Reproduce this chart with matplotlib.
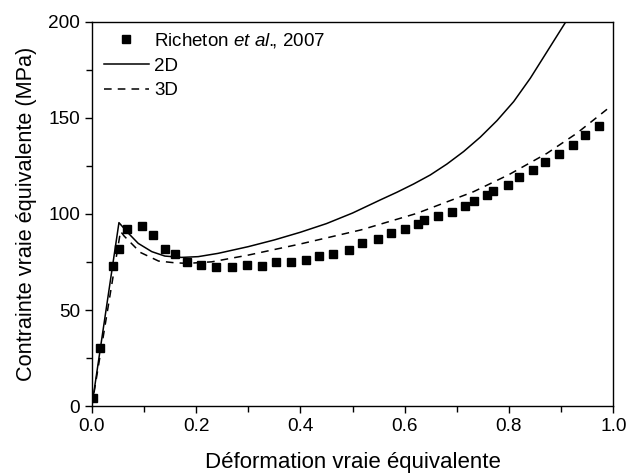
import matplotlib
matplotlib.use("Agg")
import matplotlib.pyplot as plt
from matplotlib.ticker import MultipleLocator

plt.rcParams['font.family'] = ['Liberation Sans', 'DejaVu Sans']
plt.rcParams['mathtext.fontset'] = 'custom'
plt.rcParams['mathtext.rm'] = 'Liberation Sans'
plt.rcParams['mathtext.it'] = 'Liberation Sans:italic'

# Richeton et al., 2007 (points expérimentaux)
exp_strain = [0.002, 0.015, 0.040, 0.052, 0.068, 0.096, 0.118, 0.140, 0.159, 0.183,
              0.210, 0.239, 0.268, 0.297, 0.326, 0.353, 0.381, 0.411, 0.436, 0.463,
              0.493, 0.518, 0.548, 0.574, 0.601, 0.626, 0.637, 0.664, 0.690, 0.716,
              0.733, 0.757, 0.770, 0.798, 0.820, 0.847, 0.870, 0.896, 0.922, 0.946,
              0.972]
exp_stress = [4.3, 30, 73, 82, 92, 94, 89, 82, 79, 75,
              73.4, 72.4, 72.2, 73.3, 73, 75, 75, 76, 78, 79,
              81, 85, 87, 90, 92, 95, 97, 99, 101, 104,
              107, 110, 112, 115, 119, 123, 127, 131, 136, 141,
              146]

# simulation 2D
strain_2d = [0.0, 0.052, 0.070, 0.089, 0.115, 0.140, 0.172, 0.204, 0.242, 0.30,
             0.35, 0.40, 0.45, 0.50, 0.553, 0.585, 0.617, 0.649, 0.681, 0.713,
             0.745, 0.777, 0.809, 0.841, 0.873, 0.908, 0.93]
stress_2d = [0, 95.5, 90, 84.7, 80.4, 78.1, 77.4, 77.8, 79.5, 83,
             86.5, 90.5, 95, 100.5, 107.3, 111.3, 115.6, 120.3, 126, 132.5,
             140, 148.6, 158.5, 170.7, 184.5, 199.6, 210]

# simulation 3D
strain_3d = [0.0, 0.055, 0.062, 0.093, 0.128, 0.159, 0.184, 0.23, 0.30, 0.40,
             0.516, 0.623, 0.732, 0.80, 0.873, 0.93, 0.988]
stress_3d = [0, 91, 88.5, 80, 75.5, 74.6, 74.3, 75.1, 78.6, 84.4,
             91.7, 100.3, 111.6, 120.5, 131.6, 142, 154.5]

fig = plt.figure(figsize=(6.29, 4.75), dpi=100)
ax = fig.add_axes([0.146, 0.145, 0.829, 0.809])

ax.plot(exp_strain, exp_stress, 's', color='black', markersize=6, linestyle='none',
        label='Richeton $\\mathit{et\\ al.}\\!\\!\\mathrm{,}$ 2007')
ax.plot(strain_2d, stress_2d, '-', color='black', linewidth=1.1, label='2D')
ax.plot(strain_3d, stress_3d, color='black', linewidth=1.1, linestyle=(0, (5, 4)), label='3D')

ax.set_xlim(0, 1.0)
ax.set_ylim(0, 200)
ax.xaxis.set_major_locator(MultipleLocator(0.2))
ax.xaxis.set_minor_locator(MultipleLocator(0.1))
ax.yaxis.set_major_locator(MultipleLocator(50))
ax.yaxis.set_minor_locator(MultipleLocator(25))
ax.xaxis.set_major_formatter(plt.FormatStrFormatter('%.1f'))
ax.tick_params(which='major', direction='out', length=5, width=1, labelsize=13.7)
ax.tick_params(which='minor', direction='out', length=4, width=1)
for sp in ax.spines.values():
    sp.set_linewidth(1)

ax.set_xlabel('Déformation vraie équivalente', fontsize=16, labelpad=12)
ax.set_ylabel('Contrainte vraie équivalente (MPa)', fontsize=15.6, labelpad=8)

ax.legend(loc='upper left', bbox_to_anchor=(0.005, 1.0), frameon=False, fontsize=13.5,
          handlelength=2.4, handletextpad=0.3, labelspacing=0.4, borderaxespad=0.1)

fig.savefig('out.png', dpi=100)
